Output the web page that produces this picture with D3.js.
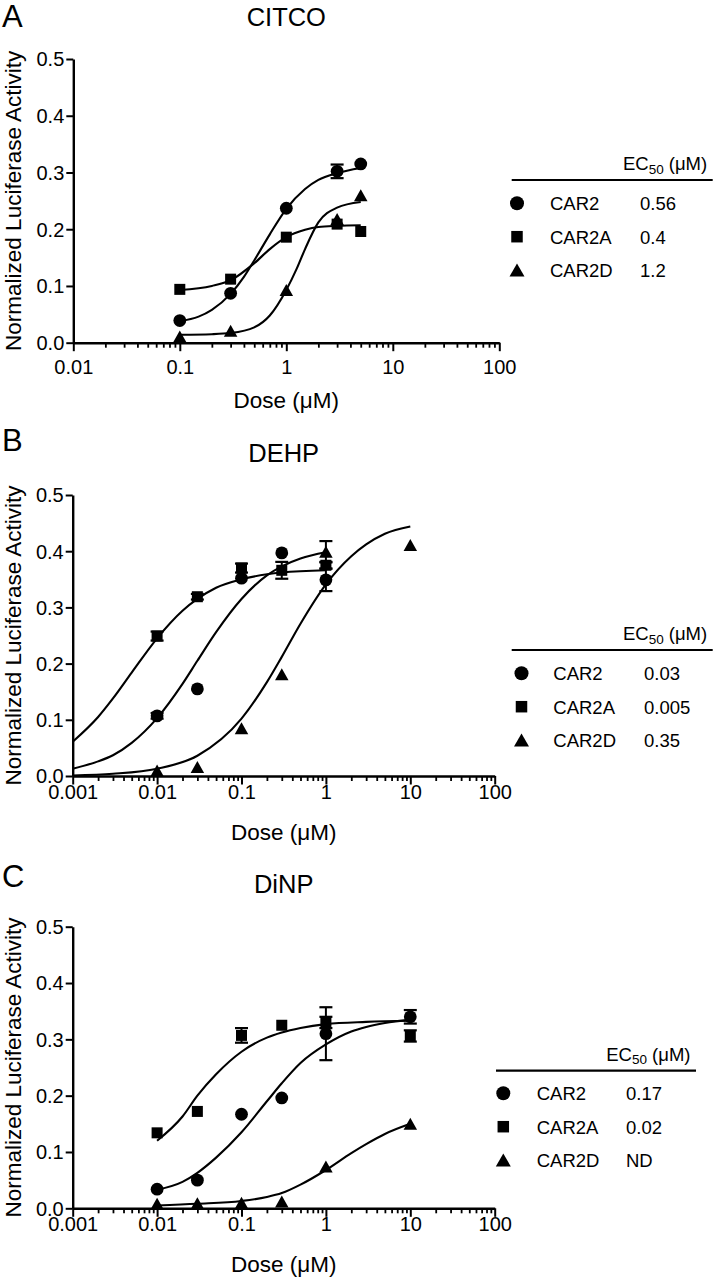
<!DOCTYPE html>
<html><head><meta charset="utf-8">
<script src="https://cdn.jsdelivr.net/npm/d3@7"></script>
<style>
body{margin:0;background:#fff}
svg{display:block}
text{font-family:"Liberation Sans",Arial,Helvetica,sans-serif;fill:#000}
</style>
</head><body>
<svg id="chart" width="716" height="1280"></svg>
<script>
// ---------- data ----------
const seriesNames = ["CAR2", "CAR2A", "CAR2D"];
const seriesShapes = ["circle", "square", "triangle"];
const panelLetters = ["A", "B", "C"];
const panelTitles = ["CITCO", "DEHP", "DiNP"];
const ec50A = ["0.56", "0.4", "1.2"];
const ec50B = ["0.03", "0.005", "0.35"];
const ec50C = ["0.17", "0.02", "ND"];
const yTicks = [0, 0.1, 0.2, 0.3, 0.4, 0.5];
const yTickLabels = ["0.0", "0.1", "0.2", "0.3", "0.4", "0.5"];
const xTicksA = [0.01, 0.1, 1, 10, 100];
const xTickLabelsA = ["0.01", "0.1", "1", "10", "100"];
const xTicksBC = [0.001, 0.01, 0.1, 1, 10, 100];
const xTickLabelsBC = ["0.001", "0.01", "0.1", "1", "10", "100"];

// Panel A (CITCO) measured points
const doseA = [0.1, 0.3, 1, 3, 5];
const a_car2 = [0.039, 0.087, 0.237, 0.302, 0.315];
const a_car2_err = [0, 0, 0, 0.012, 0];
const a_car2a = [0.094, 0.112, 0.186, 0.209, 0.196];
const a_car2a_err = [0, 0, 0, 0, 0];
const a_car2d = [0.011, 0.021, 0.093, 0.218, 0.260];
const a_car2d_err = [0, 0, 0, 0, 0];
// Panel A fitted curves
const a_car2_fitDose = [0.1, 0.15, 0.2, 0.3, 0.4, 0.5, 0.7, 1, 1.5, 2, 3, 5];
const a_car2_fit = [0.038, 0.046, 0.058, 0.086, 0.116, 0.145, 0.191, 0.236, 0.271, 0.287, 0.299, 0.308];
const a_car2a_fitDose = [0.1, 0.2, 0.3, 0.5, 0.7, 1, 1.5, 2, 3, 5];
const a_car2a_fit = [0.093, 0.100, 0.110, 0.140, 0.165, 0.186, 0.199, 0.204, 0.206, 0.207];
const a_car2d_fitDose = [0.1, 0.2, 0.3, 0.5, 0.7, 1, 1.25, 1.5, 2, 3, 5];
const a_car2d_fit = [0.014, 0.015, 0.017, 0.027, 0.048, 0.093, 0.13, 0.165, 0.212, 0.238, 0.248];

// Panel B (DEHP) measured points
const doseB = [0.01, 0.03, 0.1, 0.3, 1];
const doseB_d = [0.01, 0.03, 0.1, 0.3, 1, 10];
const b_car2 = [0.107, 0.155, 0.352, 0.397, 0.349];
const b_car2_err = [0.005, 0, 0, 0, 0.02];
const b_car2a = [0.249, 0.319, 0.370, 0.366, 0.375];
const b_car2a_err = [0.008, 0.005, 0.008, 0.015, 0.006];
const b_car2d = [0.010, 0.016, 0.085, 0.181, 0.399, 0.411];
const b_car2d_err = [0, 0, 0, 0, 0.019, 0];
// Panel B fitted curves
const b_car2_fitDose = [0.001, 0.002, 0.003, 0.005, 0.01, 0.02, 0.03, 0.05, 0.1, 0.2, 0.3, 0.5, 1];
const b_car2_fit = [0.013, 0.026, 0.037, 0.059, 0.103, 0.164, 0.205, 0.256, 0.315, 0.357, 0.373, 0.387, 0.398];
const b_car2a_fitDose = [0.001, 0.002, 0.003, 0.005, 0.01, 0.02, 0.03, 0.05, 0.1, 0.3, 1];
const b_car2a_fit = [0.061, 0.105, 0.138, 0.184, 0.245, 0.294, 0.315, 0.335, 0.350, 0.362, 0.366];
const b_car2d_fitDose = [0.001, 0.003, 0.01, 0.03, 0.1, 0.2, 0.3, 0.5, 1, 2, 3, 5, 10];
const b_car2d_fit = [0.001, 0.004, 0.013, 0.036, 0.102, 0.167, 0.212, 0.271, 0.341, 0.391, 0.412, 0.431, 0.444];

// Panel C (DiNP) measured points
const doseC = [0.01, 0.03, 0.1, 0.3, 1, 10];
const c_car2 = [0.034, 0.050, 0.167, 0.196, 0.310, 0.340];
const c_car2_err = [0, 0, 0, 0, 0.047, 0.012];
const c_car2a = [0.134, 0.172, 0.307, 0.325, 0.330, 0.306];
const c_car2a_err = [0, 0, 0.013, 0, 0.01, 0.01];
const c_car2d = [0.008, 0.009, 0.010, 0.012, 0.074, 0.150];
const c_car2d_err = [0, 0, 0, 0, 0, 0];
// Panel C fitted curves
const c_car2_fitDose = [0.01, 0.02, 0.03, 0.05, 0.1, 0.2, 0.3, 0.5, 1, 2, 3, 5, 10];
const c_car2_fit = [0.033, 0.047, 0.063, 0.090, 0.135, 0.190, 0.222, 0.258, 0.291, 0.314, 0.322, 0.329, 0.335];
const c_car2a_fitDose = [0.01, 0.02, 0.03, 0.05, 0.1, 0.2, 0.3, 0.5, 1, 3, 10];
const c_car2a_fit = [0.120, 0.163, 0.200, 0.238, 0.278, 0.303, 0.312, 0.320, 0.327, 0.331, 0.333];
const c_car2d_fitDose = [0.01, 0.03, 0.1, 0.2, 0.3, 0.5, 1, 2, 3, 5, 10];
const c_car2d_fit = [0.005, 0.008, 0.013, 0.020, 0.027, 0.042, 0.068, 0.098, 0.114, 0.132, 0.150];

// ---------- layout ----------
const FONT = '"Liberation Sans", Arial, Helvetica, sans-serif';
const panels = [
  {letter: panelLetters[0], title: panelTitles[0], ec50: ec50A,
   xDomain: [0.01, 100], xRange: [73.3, 499.3], yRange: [342.7, 59],
   xTicks: xTicksA, xTickLabels: xTickLabelsA, tickLabelOffset: 31,
   titleY: 25.5, letterY: 27, xLabelY: 408,
   legend: {lineY: 180, x1: 511.7, x2: 712.7, symX: 517, nameX: 550, valX: 640, rows: [203.3, 236.7, 270]},
   series: [
     {dose: doseA, val: a_car2, err: a_car2_err, fd: a_car2_fitDose, fv: a_car2_fit},
     {dose: doseA, val: a_car2a, err: a_car2a_err, fd: a_car2a_fitDose, fv: a_car2a_fit},
     {dose: doseA, val: a_car2d, err: a_car2d_err, fd: a_car2d_fitDose, fv: a_car2d_fit}]},
  {letter: panelLetters[1], title: panelTitles[1], ec50: ec50B,
   xDomain: [0.001, 100], xRange: [72.7, 494.7], yRange: [776, 495],
   xTicks: xTicksBC, xTickLabels: xTickLabelsBC, tickLabelOffset: 23,
   titleY: 461.5, letterY: 451, xLabelY: 840,
   legend: {lineY: 650, x1: 511.7, x2: 712.7, symX: 521.5, nameX: 553.3, valX: 644, rows: [673.3, 706.7, 740]},
   series: [
     {dose: doseB, val: b_car2, err: b_car2_err, fd: b_car2_fitDose, fv: b_car2_fit},
     {dose: doseB, val: b_car2a, err: b_car2a_err, fd: b_car2a_fitDose, fv: b_car2a_fit},
     {dose: doseB_d, val: b_car2d, err: b_car2d_err, fd: b_car2d_fitDose, fv: b_car2d_fit}]},
  {letter: panelLetters[2], title: panelTitles[2], ec50: ec50C,
   xDomain: [0.001, 100], xRange: [72.7, 494.7], yRange: [1208.3, 926.7],
   xTicks: xTicksBC, xTickLabels: xTickLabelsBC, tickLabelOffset: 23,
   titleY: 893.3, letterY: 887, xLabelY: 1271.5,
   legend: {lineY: 1070.7, x1: 496, x2: 696, symX: 503.3, nameX: 536.7, valX: 626, rows: [1093.3, 1126.7, 1160]},
   series: [
     {dose: doseC, val: c_car2, err: c_car2_err, fd: c_car2_fitDose, fv: c_car2_fit},
     {dose: doseC, val: c_car2a, err: c_car2a_err, fd: c_car2a_fitDose, fv: c_car2a_fit},
     {dose: doseC, val: c_car2d, err: c_car2d_err, fd: c_car2d_fitDose, fv: c_car2d_fit}]}
];

const svg = d3.select("#chart");

function drawMarker(g, shape, x, y, big) {
  if (shape === "circle") {
    g.append("circle").attr("cx", x).attr("cy", y).attr("r", big ? 7 : 6.4).attr("fill", "#000");
  } else if (shape === "square") {
    const s = big ? 11.5 : 11;
    g.append("rect").attr("x", x - s / 2).attr("y", y - s / 2).attr("width", s).attr("height", s).attr("fill", "#000");
  } else {
    const w = big ? 15 : 13.5, h = big ? 13 : 12;
    g.append("path").attr("d", `M${x},${y - h / 2}L${x + w / 2},${y + h / 2}L${x - w / 2},${y + h / 2}Z`).attr("fill", "#000");
  }
}

panels.forEach(p => {
  const g = svg.append("g");
  const x = d3.scaleLog().domain(p.xDomain).range(p.xRange);
  const y = d3.scaleLinear().domain([0, 0.5]).range(p.yRange);
  const y0 = p.yRange[0];
  const xMid = (p.xRange[0] + p.xRange[1]) / 2;
  const yMid = (p.yRange[0] + p.yRange[1]) / 2;

  // panel letter and title
  g.append("text").attr("x", 2).attr("y", p.letterY).attr("font-size", 31).text(p.letter);
  g.append("text").attr("x", xMid).attr("y", p.titleY).attr("text-anchor", "middle").attr("font-size", 25.5).text(p.title);

  // minor x ticks
  const minors = [];
  const lo = Math.log10(p.xDomain[0]), hi = Math.log10(p.xDomain[1]);
  for (let e = lo; e < hi; e++) for (let m = 2; m <= 9; m++) minors.push(m * Math.pow(10, e));
  const minorAxis = d3.axisBottom(x).tickValues(minors).tickSize(5).tickSizeOuter(0).tickFormat("");
  const gm = g.append("g").attr("transform", `translate(0,${y0})`).call(minorAxis);
  gm.select(".domain").remove();
  gm.selectAll("line").attr("stroke", "#000").attr("stroke-width", 1.8);

  // major x axis
  const xAxis = d3.axisBottom(x).tickValues(p.xTicks).tickSize(8.5).tickSizeOuter(0)
    .tickFormat((d, i) => p.xTickLabels[i]);
  const gx = g.append("g").attr("transform", `translate(0,${y0})`).call(xAxis);
  gx.select(".domain").attr("stroke", "#000").attr("stroke-width", 2.4);
  gx.selectAll("line").attr("stroke", "#000").attr("stroke-width", 2);
  gx.selectAll("text").attr("y", p.tickLabelOffset).attr("dy", 0)
    .attr("font-size", 20).attr("font-family", FONT).attr("fill", "#000");

  // y axis
  const yAxis = d3.axisLeft(y).tickValues(yTicks).tickSize(7).tickSizeOuter(0)
    .tickFormat((d, i) => yTickLabels[i]).tickPadding(2);
  const gy = g.append("g").attr("transform", `translate(${p.xRange[0]},0)`).call(yAxis);
  gy.select(".domain").attr("stroke", "#000").attr("stroke-width", 2.4);
  gy.selectAll("line").attr("stroke", "#000").attr("stroke-width", 2);
  gy.selectAll("text").attr("font-size", 20).attr("font-family", FONT).attr("fill", "#000").attr("dy", "0.34em");

  // axis titles
  g.append("text").attr("transform", `translate(20.5,${yMid}) rotate(-90)`)
    .attr("text-anchor", "middle").attr("font-size", 22.5).text("Normalized Luciferase Activity");
  g.append("text").attr("x", xMid).attr("y", p.xLabelY).attr("text-anchor", "middle")
    .attr("font-size", 22.5).text("Dose (\u03BCM)");

  // curves
  const line = d3.line().x(d => x(d[0])).y(d => y(d[1])).curve(d3.curveMonotoneX);
  p.series.forEach(s => {
    const pts = s.fd.map((d, i) => [d, s.fv[i]]);
    g.append("path").attr("d", line(pts)).attr("fill", "none").attr("stroke", "#000").attr("stroke-width", 2.1);
  });

  // error bars and markers
  p.series.forEach((s, si) => {
    s.dose.forEach((d, i) => {
      const e = s.err[i];
      if (e > 0) {
        const cx = x(d);
        const ya = y(s.val[i] - e), yb = y(s.val[i] + e);
        g.append("line").attr("x1", cx).attr("x2", cx).attr("y1", ya).attr("y2", yb).attr("stroke", "#000").attr("stroke-width", 2);
        [ya, yb].forEach(yy => g.append("line").attr("x1", cx - 6.5).attr("x2", cx + 6.5)
          .attr("y1", yy).attr("y2", yy).attr("stroke", "#000").attr("stroke-width", 2.2));
      }
    });
  });
  p.series.forEach((s, si) => {
    s.dose.forEach((d, i) => drawMarker(g, seriesShapes[si], x(d), y(s.val[i]), false));
  });

  // legend table
  const L = p.legend;
  g.append("line").attr("x1", L.x1).attr("x2", L.x2).attr("y1", L.lineY).attr("y2", L.lineY)
    .attr("stroke", "#000").attr("stroke-width", 2.2);
  const hdr = g.append("text").attr("x", L.x2 - 5.5).attr("y", L.lineY - 10).attr("text-anchor", "end").attr("font-size", 18.5);
  hdr.append("tspan").text("EC");
  hdr.append("tspan").attr("font-size", 13.5).attr("dy", 3.5).text("50");
  hdr.append("tspan").attr("dy", -3.5).text(" (\u03BCM)");
  seriesNames.forEach((n, i) => {
    const ry = L.rows[i];
    drawMarker(g, seriesShapes[i], L.symX, ry, true);
    g.append("text").attr("x", L.nameX).attr("y", ry + 6.8).attr("font-size", 18.5).text(n);
    g.append("text").attr("x", L.valX).attr("y", ry + 6.8).attr("font-size", 18.5).text(p.ec50[i]);
  });
});
</script>
</body></html>
